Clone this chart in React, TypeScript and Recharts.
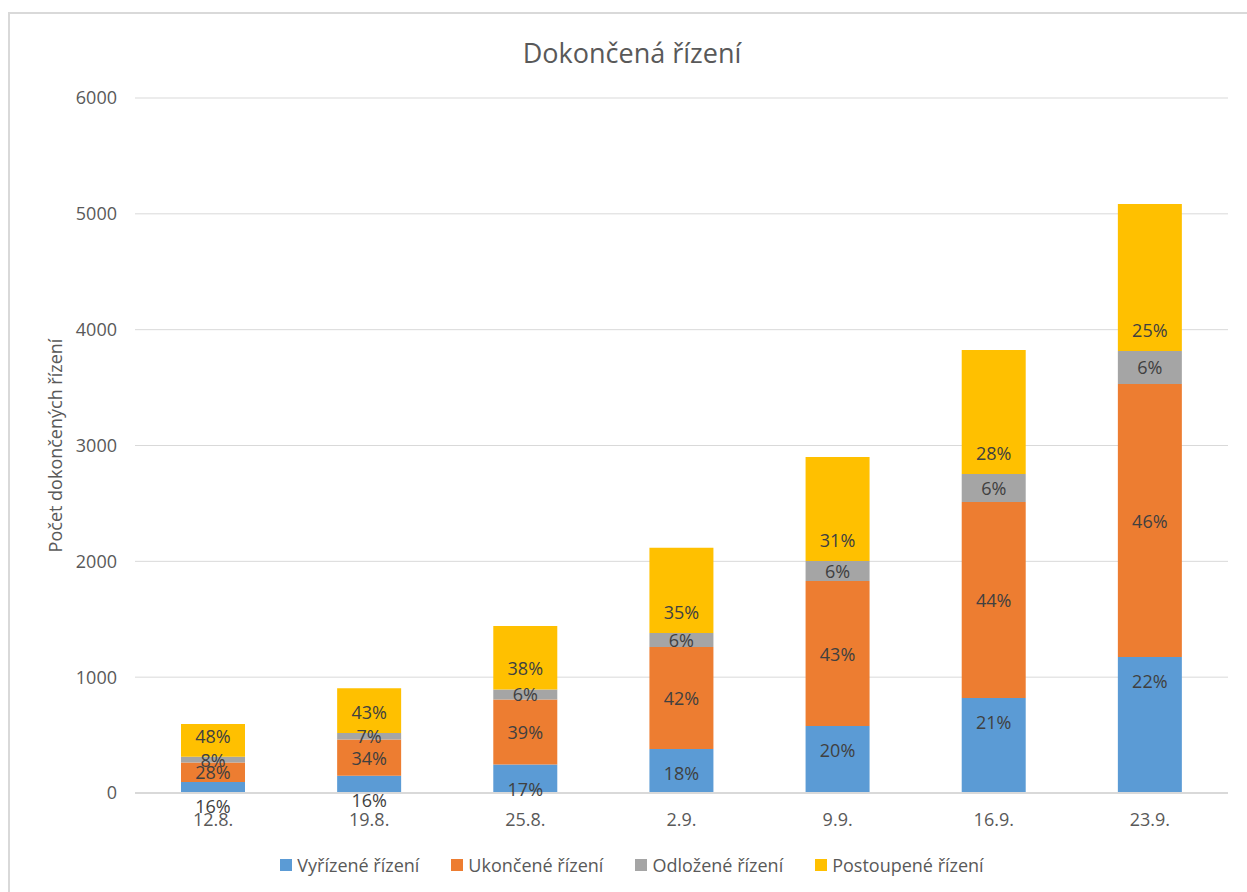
import React from 'react';
import { BarChart, Bar, XAxis, YAxis, CartesianGrid, LabelList } from 'recharts';

const categories = ['12.8.', '19.8.', '25.8.', '2.9.', '9.9.', '16.9.', '23.9.'];

// počty řízení podle typu
const vyrizene = [96, 150, 245, 380, 578, 820, 1174];
const ukoncene = [168, 312, 562, 880, 1252, 1692, 2357];
const odlozene = [48, 56, 87, 121, 173, 242, 285];
const postoupene = [284, 386, 548, 737, 898, 1071, 1269];

// procentní popisky tak, jak jsou v grafu
const vyrizenePct = ['16%', '16%', '17%', '18%', '20%', '21%', '22%'];
const ukoncenePct = ['28%', '34%', '39%', '42%', '43%', '44%', '46%'];
const odlozenePct = ['8%', '7%', '6%', '6%', '6%', '6%', '6%'];
const postoupenePct = ['48%', '43%', '38%', '35%', '31%', '28%', '25%'];

const yTicks = [0, 1000, 2000, 3000, 4000, 5000, 6000];

const FONT = '"Open Sans", "Noto Sans", sans-serif';
const TEXT = '#595959';
const LABEL = '#404040';

const series = [
  { key: 'vyrizene', name: 'Vyřízené řízení', color: '#5B9BD5', pos: 'end' },
  { key: 'ukoncene', name: 'Ukončené řízení', color: '#ED7D31', pos: 'center' },
  { key: 'odlozene', name: 'Odložené řízení', color: '#A5A5A5', pos: 'center' },
  { key: 'postoupene', name: 'Postoupené řízení', color: '#FFC000', pos: 'base' },
];

const data = categories.map((date, i) => ({
  date,
  vyrizene: vyrizene[i],
  ukoncene: ukoncene[i],
  odlozene: odlozene[i],
  postoupene: postoupene[i],
  vyrizenePct: vyrizenePct[i],
  ukoncenePct: ukoncenePct[i],
  odlozenePct: odlozenePct[i],
  postoupenePct: postoupenePct[i],
}));

// Excel-like label placement: inside end / center / inside base
const makeLabel = (pos: string) => (props: any) => {
  const x = Number(props.x);
  const y = Number(props.y);
  const width = Number(props.width);
  const height = Number(props.height);
  let cy = y + height / 2;
  if (pos === 'end') cy = y + 24;
  if (pos === 'base') cy = y + height - 21;
  return (
    <text
      x={x + width / 2}
      y={cy}
      textAnchor="middle"
      dominantBaseline="central"
      fill={LABEL}
      fontSize={18}
      fontFamily={FONT}
    >
      {props.value}
    </text>
  );
};

const YLabel = (props: any) => {
  const vb = props.viewBox || {};
  const cx = (vb.x || 0) + 55;
  const cy = (vb.y || 0) + (vb.height || 0) / 2;
  return (
    <text
      x={cx}
      y={cy}
      transform={`rotate(-90 ${cx} ${cy})`}
      textAnchor="middle"
      dominantBaseline="central"
      fill={TEXT}
      fontSize={18}
      fontFamily={FONT}
    >
      Počet dokončených řízení
    </text>
  );
};

export default function App() {
  return (
    <div style={{ position: 'relative', width: 1247, height: 892, overflow: 'hidden', background: '#fff', fontFamily: FONT }}>
      <style>{'body { margin: 0; }'}</style>
      <div
        style={{
          position: 'absolute',
          left: 8,
          top: 12,
          width: 1260,
          height: 900,
          border: '2px solid #D9D9D9',
          boxSizing: 'border-box',
        }}
      />
      <div
        style={{
          position: 'absolute',
          top: 34,
          left: 0,
          width: 1264,
          textAlign: 'center',
          fontSize: 27,
          color: TEXT,
          lineHeight: '38px',
        }}
      >
        Dokončená řízení
      </div>
      <div style={{ position: 'absolute', left: 0, top: 0 }}>
        <BarChart
          width={1247}
          height={892}
          data={data}
          margin={{ top: 98, right: 19, bottom: 69, left: 0 }}
          barSize={64}
        >
          <CartesianGrid vertical={false} stroke="#D9D9D9" strokeWidth={1} />
          <XAxis
            dataKey="date"
            height={30}
            tickSize={0}
            tickMargin={20}
            axisLine={{ stroke: '#D9D9D9', strokeWidth: 2 }}
            tickLine={false}
            tick={{ fill: TEXT, fontSize: 18, fontFamily: FONT }}
          />
          <YAxis
            width={135}
            domain={[0, 6000]}
            ticks={yTicks}
            tickSize={0}
            tickMargin={18}
            axisLine={false}
            tickLine={false}
            tick={{ fill: TEXT, fontSize: 18, fontFamily: FONT }}
            label={{ content: YLabel }}
          />
          {series.map((s) => (
            <Bar
              key={s.key}
              dataKey={s.key}
              name={s.name}
              stackId="a"
              fill={s.color}
              isAnimationActive={false}
            >
              <LabelList dataKey={`${s.key}Pct`} content={makeLabel(s.pos)} />
            </Bar>
          ))}
        </BarChart>
      </div>
      <div
        style={{
          position: 'absolute',
          top: 852,
          left: 0,
          width: 1264,
          display: 'flex',
          justifyContent: 'center',
          fontSize: 18,
          color: TEXT,
          lineHeight: '26px',
        }}
      >
        {series.map((s) => (
          <div key={s.key} style={{ display: 'flex', alignItems: 'center', margin: '0 16px' }}>
            <span style={{ display: 'inline-block', width: 12, height: 12, background: s.color, marginRight: 5 }} />
            <span>{s.name}</span>
          </div>
        ))}
      </div>
    </div>
  );
}
